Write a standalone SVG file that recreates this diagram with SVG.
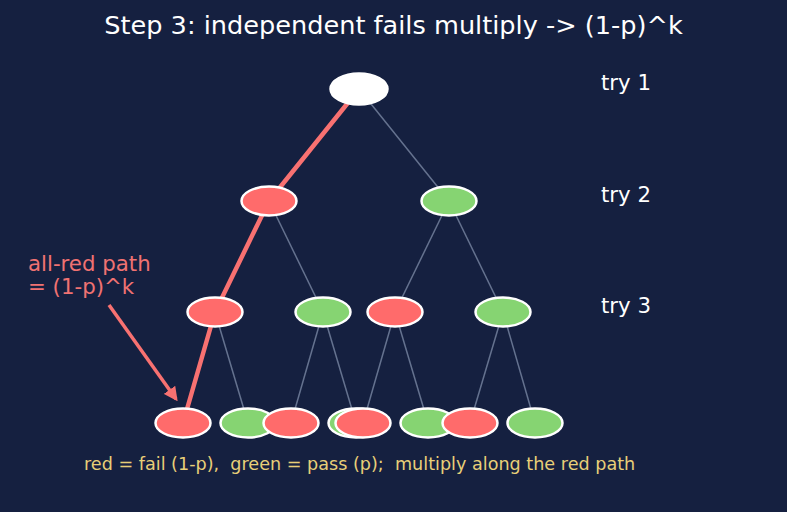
<svg xmlns="http://www.w3.org/2000/svg" width="787" height="512" viewBox="0 0 787 512">
<defs>
<style>
text{font-family:"DejaVu Sans",sans-serif}
.e{stroke:#65728f;stroke-width:1.5;fill:none}
.rp{stroke:#f87171;stroke-width:4.5;fill:none;stroke-linecap:round}
.n{stroke:#ffffff;stroke-width:2.5}
.r{fill:#ff6b6b}
.g{fill:#86d472}
.w{fill:#ffffff}
.lab{fill:#ffffff;font-size:21.3px}
.ann{fill:#f07272;font-size:21.3px}
</style>
<marker id="ah" viewBox="0 0 10 10" refX="8" refY="5" markerWidth="4" markerHeight="4" orient="auto" markerUnits="strokeWidth">
<path d="M0,0 L10,5 L0,10 z" fill="#f87171"/>
</marker>
</defs>
<rect width="787" height="512" fill="#152040"/>
<text x="393.5" y="34" text-anchor="middle" font-size="25.6" fill="#ffffff">Step 3: independent fails multiply -&gt; (1-p)^k</text>
<g id="connectors">
<line class="e" x1="359" y1="89" x2="449" y2="201"/>
<line class="e" x1="269" y1="201" x2="323" y2="312"/>
<line class="e" x1="449" y1="201" x2="395" y2="312"/>
<line class="e" x1="449" y1="201" x2="503" y2="312"/>
<line class="e" x1="215" y1="312" x2="248" y2="423"/>
<line class="e" x1="323" y1="312" x2="291" y2="423"/>
<line class="e" x1="323" y1="312" x2="356" y2="423"/>
<line class="e" x1="395" y1="312" x2="363" y2="423"/>
<line class="e" x1="395" y1="312" x2="428" y2="423"/>
<line class="e" x1="503" y1="312" x2="470" y2="423"/>
<line class="e" x1="503" y1="312" x2="535" y2="423"/>
<polyline class="rp" points="359,89 269,201 215,312 183,423"/>
<line x1="109" y1="305" x2="176" y2="399" stroke="#f87171" stroke-width="3.5" marker-end="url(#ah)"/>
</g>
<g id="root"><ellipse class="n w" cx="359" cy="89" rx="28.5" ry="15.5"/></g>
<g id="l2a"><ellipse class="n r" cx="269" cy="201" rx="27.5" ry="14.5"/></g>
<g id="l2b"><ellipse class="n g" cx="449" cy="201" rx="27.5" ry="14.5"/></g>
<g id="l3a"><ellipse class="n r" cx="215" cy="312" rx="27.5" ry="14.5"/></g>
<g id="l3b"><ellipse class="n g" cx="323" cy="312" rx="27.5" ry="14.5"/></g>
<g id="l3c"><ellipse class="n r" cx="395" cy="312" rx="27.5" ry="14.5"/></g>
<g id="l3d"><ellipse class="n g" cx="503" cy="312" rx="27.5" ry="14.5"/></g>
<g id="l4a"><ellipse class="n r" cx="183" cy="423" rx="27.5" ry="14.5"/></g>
<g id="l4b"><ellipse class="n g" cx="248" cy="423" rx="27.5" ry="14.5"/></g>
<g id="l4c"><ellipse class="n r" cx="291" cy="423" rx="27.5" ry="14.5"/></g>
<g id="l4d"><ellipse class="n g" cx="356" cy="423" rx="27.5" ry="14.5"/></g>
<g id="l4e"><ellipse class="n r" cx="363" cy="423" rx="27.5" ry="14.5"/></g>
<g id="l4f"><ellipse class="n g" cx="428" cy="423" rx="27.5" ry="14.5"/></g>
<g id="l4g"><ellipse class="n r" cx="470" cy="423" rx="27.5" ry="14.5"/></g>
<g id="l4h"><ellipse class="n g" cx="535" cy="423" rx="27.5" ry="14.5"/></g>
<g id="labels">
<text class="lab" x="601" y="90">try 1</text>
<text class="lab" x="601" y="202">try 2</text>
<text class="lab" x="601" y="313">try 3</text>
<text class="ann" x="28" y="271">all-red path</text>
<text class="ann" x="28" y="294">= (1-p)^k</text>
<text x="84" y="470" font-size="17.6" fill="#e8cf78" style="white-space:pre" xml:space="preserve">red = fail (1-p),  green = pass (p);  multiply along the red path</text>
</g>
</svg>
